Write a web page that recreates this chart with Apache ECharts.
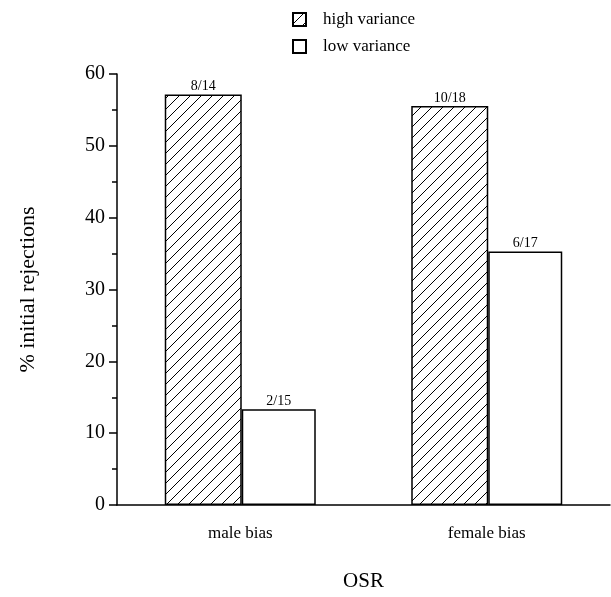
<!DOCTYPE html>
<html>
<head>
<meta charset="utf-8">
<script src="https://cdn.jsdelivr.net/npm/echarts@6/dist/echarts.min.js"></script>
<style>html,body{margin:0;padding:0;background:#fff}#c{width:611px;height:597px}</style>
</head>
<body>
<div id="c"></div>
<script>
var categories = ['male bias', 'female bias'];
var highVariance = [57.14, 55.56];
var lowVariance = [13.33, 35.29];
var highLabels = ['8/14', '10/18'];
var lowLabels = ['2/15', '6/17'];
var yTicks = [0, 10, 20, 30, 40, 50, 60];

function hatch() {
  var s = 11;
  var c = document.createElement('canvas');
  c.width = s; c.height = s;
  var g = c.getContext('2d');
  g.fillStyle = '#fff'; g.fillRect(0, 0, s, s);
  g.strokeStyle = '#000'; g.lineWidth = 1;
  g.beginPath();
  g.moveTo(-1, s + 1); g.lineTo(s + 1, -1);
  g.moveTo(-2, 2); g.lineTo(2, -2);
  g.moveTo(s - 2, s + 2); g.lineTo(s + 2, s - 2);
  g.stroke();
  return c;
}

var font = 'Liberation Serif';
var chart = echarts.init(document.getElementById('c'), null, {renderer: 'canvas'});
chart.setOption({
  animation: false,
  backgroundColor: '#fff',
  textStyle: {fontFamily: font, color: '#000'},
  grid: {left: 117, right: 1, top: 74, bottom: 88},
  legend: {
    orient: 'vertical', left: 287, top: 6, itemGap: 10,
    itemWidth: 13, itemHeight: 13, icon: 'rect',
    textStyle: {fontFamily: font, fontSize: 17, color: '#000', padding: [0, 0, 0, 12]},
    data: ['high variance', 'low variance']
  },
  xAxis: {
    type: 'category', data: categories,
    axisLine: {lineStyle: {color: '#000', width: 1.5}},
    axisTick: {show: false},
    axisLabel: {fontFamily: font, fontSize: 17, color: '#000', margin: 20},
    name: 'OSR', nameLocation: 'middle', nameGap: 66,
    nameTextStyle: {fontFamily: font, fontSize: 21, color: '#000'}
  },
  yAxis: {
    type: 'value', min: yTicks[0], max: yTicks[yTicks.length - 1], interval: 10,
    axisLine: {show: true, lineStyle: {color: '#000', width: 1.5}},
    axisTick: {show: true, length: 8, lineStyle: {color: '#000', width: 1.5}},
    minorTick: {show: true, splitNumber: 2, length: 5, lineStyle: {color: '#000', width: 1.5}},
    splitLine: {show: false},
    axisLabel: {fontFamily: font, fontSize: 20, color: '#000', margin: 12},
    name: '% initial rejections', nameLocation: 'middle', nameGap: 78, nameRotate: 90,
    nameTextStyle: {fontFamily: font, fontSize: 22, color: '#000'}
  },
  series: [
    {
      name: 'high variance', type: 'bar', data: highVariance, barWidth: 77, barGap: '0%',
      itemStyle: {color: {image: hatch(), repeat: 'repeat'}, borderColor: '#000', borderWidth: 1.5},
      label: {show: true, position: 'top', distance: 1, fontFamily: font, fontSize: 14, color: '#000',
        formatter: function (p) { return highLabels[p.dataIndex]; }}
    },
    {
      name: 'low variance', type: 'bar', data: lowVariance, barWidth: 74,
      itemStyle: {color: '#fff', borderColor: '#000', borderWidth: 1.5},
      label: {show: true, position: 'top', distance: 1, fontFamily: font, fontSize: 14, color: '#000',
        formatter: function (p) { return lowLabels[p.dataIndex]; }}
    }
  ]
});
</script>
</body>
</html>
